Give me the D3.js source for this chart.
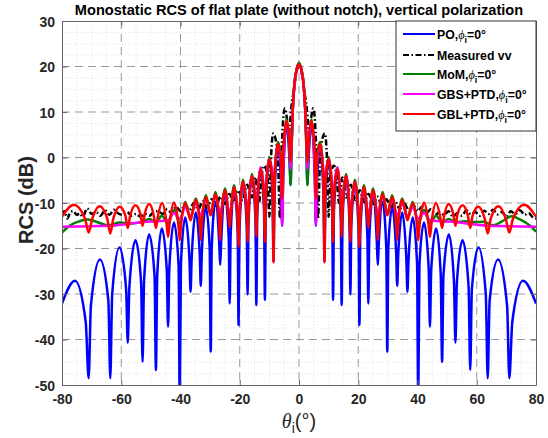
<!DOCTYPE html>
<html><head><meta charset="utf-8">
<script src="https://cdn.jsdelivr.net/npm/d3@7/dist/d3.min.js"></script>
<style>
body{margin:0;background:#fff;}
svg text{font-family:"Liberation Sans",Arial,Helvetica,sans-serif;}
</style></head><body>
<svg id="chart" width="548" height="438"></svg>
<script>
// ---------- data (theta in degrees, RCS in dB) ----------
const xTicks = [-80,-60,-40,-20,0,20,40,60,80];
const yTicks = [-50,-40,-30,-20,-10,0,10,20,30];
const titleText = "Monostatic RCS of flat plate (without notch), vertical polarization";
const seriesNames = ["PO", "Measured vv", "MoM", "GBS+PTD", "GBL+PTD"];
const seriesColors = ["#0000ff", "#000000", "#008000", "#ff00ff", "#ff0000"];

const poData = [
[-80,-32.1],[-75.6,-27.1],[-72.0,-36.1],[-71.0,-48.5],[-70.25,-32.6],[-67.2,-22.4],[-64.35,-31.4],[-63.7,-48.5],[-63.05,-30],
[-60.6,-19.8],[-58.35,-29],[-57.8,-40.7],[-57.25,-28.4],[-55.2,-18.2],[-53.3,-27.4],[-52.8,-44.9],[-52.3,-27.1],
[-50.6,-16.9],[-48.75,-26.1],[-48.3,-46.7],[-47.85,-25.8],[-46.3,-15.6],[-44.62,-24.8],[-44.2,-37.2],[-43.78,-24.5],
[-42.2,-14.3],[-40.65,-23.6],[-40.25,-54],[-39.85,-23.3],[-38.4,-13.2],[-36.97,-22.5],[-36.6,-29.5],[-36.23,-22.2],
[-34.85,-12.1],[-33.5,-21.3],[-33.15,-28.2],[-32.8,-21.0],[-31.45,-10.9],[-30.14,-20.1],[-29.8,-42.7],[-29.46,-19.8],
[-28.2,-9.7],[-26.93,-18.9],[-26.6,-23.6],[-26.27,-18.5],[-25.0,-8.4],[-23.72,-17.6],[-23.4,-32.1],[-23.08,-17.3],
[-21.9,-7.1],[-20.7,-16.3],[-20.4,-36.8],[-20.1,-16],[-18.9,-5.8],[-17.65,-15],[-17.35,-30.1],[-17.05,-14.7],
[-15.9,-4.3],[-14.7,-13.5],[-14.4,-32.4],[-14.1,-13.2],[-12.95,-2.8],[-11.8,-11.8],[-11.5,-31.3],[-11.2,-11.5],
[-10.05,-0.5],[-8.9,-9.5],[-8.6,-23],[-8.3,-9.5],[-7.15,2.6],[-6.0,-6.5],[-5.7,-15],[-5.4,-6.5],
[-4.2,7.5],[-3.15,-1.5],[-2.85,-6],[-2.55,1.0],[-2.1,10.5],[-1.5,16.4],[-0.8,19.3],[0,20.5],
[0.8,19.3],[1.5,16.4],[2.1,10.5],[2.55,1.0],[2.85,-6],[3.15,-1.5],[4.2,7.5],
[5.4,-6.5],[5.7,-15],[6.0,-6.5],[7.15,2.6],[8.3,-9.5],[8.6,-23],[8.9,-9.5],[10.05,-0.5],
[11.2,-11.5],[11.5,-31.3],[11.8,-11.8],[12.95,-2.8],[14.1,-13.2],[14.4,-32.4],[14.7,-13.5],[15.9,-4.3],
[17.05,-14.7],[17.35,-30.1],[17.65,-15],[18.9,-5.8],[20.1,-16],[20.4,-36.8],[20.7,-16.3],[21.9,-7.1],
[23.08,-17.3],[23.4,-32.1],[23.72,-17.6],[25.0,-8.4],[26.27,-18.5],[26.6,-23.6],[26.93,-18.9],[28.2,-9.7],
[29.46,-19.8],[29.8,-42.7],[30.14,-20.1],[31.45,-10.9],[32.8,-21.0],[33.15,-28.2],[33.5,-21.3],[34.85,-12.1],
[36.23,-22.2],[36.6,-29.5],[36.97,-22.5],[38.4,-13.2],[39.85,-23.3],[40.25,-54],[40.65,-23.6],[42.2,-14.3],
[43.78,-24.5],[44.2,-37.2],[44.62,-24.8],[46.3,-15.6],[47.85,-25.8],[48.3,-44.9],[48.75,-26.1],[50.6,-16.9],
[52.3,-27.1],[52.8,-40.7],[53.3,-27.4],[55.2,-18.2],[57.25,-28.4],[57.8,-46.7],[58.35,-29],[60.6,-19.8],
[63.05,-30],[63.7,-48.5],[64.35,-31.4],[67.2,-22.4],[70.25,-32.6],[71.0,-48.5],[72.0,-36.1],[75.6,-27.1],[80,-32.1]
];

const measuredData = [
[-80,-12.8],[-79.2,-11.8],[-78.2,-13.4],[-77.2,-12.0],[-76.2,-11.8],[-75,-12.6],[-74,-12.3],[-73,-13.0],[-71.5,-11.2],
[-70,-12.4],[-68.5,-12.0],[-67,-12.8],[-65.5,-11.6],[-64,-12.6],[-62.5,-11.5],[-61,-12.3],[-59.5,-12.6],[-58,-12.0],
[-56.5,-12.8],[-55,-12.4],[-53.5,-13.0],[-52,-12.4],[-50.5,-12.8],[-49,-12.0],[-47.5,-11.8],[-46,-12.4],[-44.5,-11.4],
[-43,-12.2],[-41.5,-10.8],[-40,-11.8],[-38.5,-10.4],[-37,-11.6],[-35.5,-10.0],[-34,-11.4],[-32.5,-9.6],[-31,-11.0],
[-29.5,-9.2],[-28,-10.6],[-26.5,-8.6],[-25,-10.2],[-23.5,-8.0],[-22,-9.8],[-20.5,-7.2],[-19,-9.4],[-17.5,-6.0],
[-16,-8.8],[-14.6,-4.4],[-13.5,-10.0],[-12.8,-5.0],[-11.8,-1.8],[-10.6,-4.0],[-10.0,-13.0],[-9.5,-1.0],[-8.7,5.3],
[-7.2,1.0],[-6.4,-13.4],[-5.7,4.0],[-4.8,10.8],[-3.9,7.5],[-3.45,4.5],[-3.1,7.0],[-2.6,11.0],[-1.8,14.5],[-1.0,18.3],
[0,20.3],[1.0,18.3],[1.8,14.5],[2.6,11.0],[3.1,7.0],[3.45,4.5],[3.9,7.5],[4.8,10.8],[5.7,4.0],[6.4,-13.4],[7.2,1.0],
[8.7,5.3],[9.5,-1.0],[10.0,-13.0],[10.6,-4.0],[11.8,-1.8],[12.8,-5.0],[13.5,-10.0],[14.6,-4.4],[16,-8.8],[17.5,-6.0],
[19,-9.4],[20.5,-7.2],[22,-9.8],[23.5,-8.0],[25,-10.2],[26.5,-8.6],[28,-10.6],[29.5,-9.2],[31,-11.0],[32.5,-9.6],
[34,-11.4],[35.5,-10.0],[37,-11.6],[38.5,-10.4],[40,-11.8],[41.5,-10.8],[43,-12.2],[44.5,-11.4],[46,-12.6],[47.5,-12.0],
[49,-12.6],[50.5,-11.8],[52,-13.0],[53.5,-12.2],[55,-12.8],[56.5,-11.6],[58,-12.5],[59.5,-12.0],[61,-12.8],[62.5,-11.7],
[64,-12.4],[65.5,-11.5],[67,-12.5],[68.5,-12.0],[70,-13.0],[71.5,-11.8],[73,-12.4],[74.6,-11.6],[76.2,-12.6],[77.5,-12.2],
[79,-13.2],[80,-13.4]
];

const momData = [
[-80,-16.5],[-77.2,-14.9],[-74,-14.0],[-71.5,-13.6],[-68.9,-14.0],[-64.4,-14.9],[-60.5,-14.3],[-57,-14.5],[-53,-14.2],
[-50.5,-13.5],[-48.3,-14.3],[-46.3,-12.8],[-44.2,-14.5],[-42.2,-11.5],[-40.25,-14.5],[-38.4,-9.8],[-36.95,-13],[-36.6,-13.5],
[-36.25,-12.8],[-34.85,-9.0],[-33.5,-14],[-33.15,-17],[-32.8,-14],[-31.45,-8.3],[-30.1,-12],[-29.8,-12.5],[-29.5,-11.8],
[-28.2,-7.6],[-26.9,-14],[-26.6,-17],[-26.3,-13.5],[-25.0,-6.8],[-23.7,-13],[-23.4,-14.5],[-23.1,-12.5],[-21.9,-6.1],
[-20.7,-13],[-20.4,-18],[-20.1,-12.5],[-18.9,-4.9],[-17.65,-12],[-17.35,-17],[-17.05,-11.5],[-15.9,-3.6],[-14.7,-10.5],
[-14.4,-16],[-14.1,-10],[-12.95,-2.2],[-11.8,-8.5],[-11.5,-17],[-11.2,-8],[-10.05,0.1],[-8.9,-5.5],[-8.6,-20],[-8.3,-5],
[-7.15,3.4],[-6.05,0],[-5.7,-8.5],[-5.3,0],[-4.2,8.4],[-3.2,2],[-2.85,-6.1],[-2.5,2],[-2.1,10.7],[-1.5,16.6],[-0.8,19.5],
[0,20.8],[0.8,19.5],[1.5,16.6],[2.1,10.7],[2.5,2],[2.85,-6.1],[3.2,2],[4.2,8.4],[5.3,0],[5.7,-8.5],[6.05,0],[7.15,3.4],
[8.3,-5],[8.6,-20],[8.9,-5.5],[10.05,0.1],[11.2,-8],[11.5,-17],[11.8,-8.5],[12.95,-2.2],[14.1,-10],[14.4,-16],[14.7,-10.5],
[15.9,-3.6],[17.05,-11.5],[17.35,-17],[17.65,-12],[18.9,-4.9],[20.1,-12.5],[20.4,-18],[20.7,-13],[21.9,-6.1],[23.1,-12.5],
[23.4,-14.5],[23.7,-13],[25.0,-6.8],[26.3,-13.5],[26.6,-17],[26.9,-14],[28.2,-7.6],[29.5,-11.8],[29.8,-12.5],[30.1,-12],
[31.45,-8.3],[32.8,-14],[33.15,-17],[33.5,-14],[34.85,-9.0],[36.25,-12.8],[36.6,-13.5],[36.95,-13],[38.4,-9.8],
[40.25,-14.5],[42.2,-11.5],[44.2,-14.5],[46.3,-12.8],[48.3,-14.3],[50.5,-13.5],[53,-14.2],[56,-14.0],[59,-14.2],
[62.2,-14.1],[65.6,-14.9],[68.4,-14.1],[71.8,-12.9],[74.6,-13.6],[78,-15.0],[80,-16.3]
];

const gbsData = [
[-80,-15.2],[-70,-15.1],[-64,-15.0],[-58,-14.6],[-53,-14.2],[-48,-14.0],[-44.2,-13.8],[-42.2,-12.2],[-40.25,-13.5],
[-38.4,-11.0],[-36.6,-13.0],[-34.85,-10.0],[-33.15,-12.8],[-31.45,-9.2],[-29.8,-12.3],[-28.2,-8.3],[-26.6,-12.5],
[-25.0,-7.4],[-23.7,-12],[-23.4,-12.5],[-23.1,-11.8],[-21.9,-6.6],[-20.7,-12],[-20.4,-13],[-20.1,-11.5],[-18.9,-5.4],
[-17.65,-11],[-17.35,-13],[-17.05,-10.5],[-15.9,-4.1],[-14.7,-9.5],[-14.4,-12],[-14.1,-9],[-12.95,-2.2],[-11.8,-7.5],
[-11.5,-11],[-11.2,-7],[-10.05,-0.4],[-8.9,-4.5],[-8.6,-12],[-8.3,-4],[-7.15,2.8],[-6.05,-2],[-5.7,-14.9],[-5.3,-2],
[-4.2,7.8],[-3.2,3],[-2.85,-2.5],[-2.5,4],[-2.1,10.4],[-1.5,16.3],[-0.8,19.2],[0,20.4],
[0.8,19.2],[1.5,16.3],[2.1,10.4],[2.5,4],[2.85,-2.5],[3.2,3],[4.2,7.8],[5.3,-2],[5.7,-14.9],[6.05,-2],[7.15,2.8],
[8.3,-4],[8.6,-12],[8.9,-4.5],[10.05,-0.4],[11.2,-7],[11.5,-11],[11.8,-7.5],[12.95,-2.2],[14.1,-9],[14.4,-12],[14.7,-9.5],
[15.9,-4.1],[17.05,-10.5],[17.35,-13],[17.65,-11],[18.9,-5.4],[20.1,-11.5],[20.4,-13],[20.7,-12],[21.9,-6.6],
[23.1,-11.8],[23.4,-12.5],[23.7,-12],[25.0,-7.4],[26.6,-12.5],[28.2,-8.3],[29.8,-12.3],[31.45,-9.2],[33.15,-12.8],
[34.85,-10.0],[36.6,-13.0],[38.4,-11.0],[40.25,-13.5],[42.2,-12.2],[44.2,-13.8],[48,-14.0],[53,-14.2],[58,-14.6],
[64,-15.0],[70,-15.1],[80,-15.2]
];

const gblData = [
[-80,-13.0],[-76.0,-10.4],[-72.2,-13.5],[-71.0,-16.5],[-69.8,-13.5],[-67.3,-10.7],[-64.7,-13.5],[-63.7,-16.7],[-62.7,-13.5],
[-60.5,-10.8],[-58.6,-12.8],[-57.8,-15.5],[-57.0,-12.8],[-55.2,-10.5],[-53.5,-12.5],[-52.8,-15.0],[-52.1,-12.5],
[-50.5,-10.2],[-48.95,-13.0],[-48.3,-15.5],[-47.65,-13.0],[-46.2,-10.0],[-44.8,-14.0],[-44.2,-17.4],[-43.6,-14.0],
[-42.2,-9.9],[-40.6,-15.5],[-40.25,-18.2],[-39.9,-15.5],[-38.4,-10.0],[-36.95,-13.2],[-36.6,-13.8],[-36.25,-13.0],
[-34.85,-9.3],[-33.5,-14.5],[-33.15,-18.2],[-32.8,-14.5],[-31.45,-8.7],[-30.1,-12.2],[-29.8,-12.7],[-29.5,-12.0],
[-28.2,-8.0],[-26.9,-14.5],[-26.6,-18.2],[-26.3,-14.0],[-25.0,-7.2],[-23.7,-13.5],[-23.4,-15.3],[-23.1,-13.0],
[-21.9,-6.5],[-20.7,-13.5],[-20.4,-19.6],[-20.1,-13.0],[-18.9,-5.3],[-17.65,-12.5],[-17.35,-18.5],[-17.05,-12.0],
[-15.9,-4.0],[-14.7,-11.0],[-14.4,-17.4],[-14.1,-10.5],[-12.95,-2.6],[-11.8,-9.0],[-11.5,-18.6],[-11.2,-8.5],
[-10.05,-0.3],[-8.9,-6.0],[-8.6,-23.0],[-8.3,-5.5],[-7.15,3.0],[-6.05,-0.5],[-5.7,-9.0],[-5.3,1.5],[-4.2,8.0],
[-3.2,3.0],[-2.85,-1.0],[-2.5,3.5],[-2.1,10.5],[-1.5,16.4],[-0.8,19.3],[0,20.5],
[0.8,19.3],[1.5,16.4],[2.1,10.5],[2.5,3.5],[2.85,-1.0],[3.2,3.0],[4.2,8.0],[5.3,1.5],[5.7,-9.0],[6.05,-0.5],[7.15,3.0],
[8.3,-5.5],[8.6,-23.0],[8.9,-6.0],[10.05,-0.3],[11.2,-8.5],[11.5,-18.6],[11.8,-9.0],[12.95,-2.6],[14.1,-10.5],[14.4,-17.4],
[14.7,-11.0],[15.9,-4.0],[17.05,-12.0],[17.35,-18.5],[17.65,-12.5],[18.9,-5.3],[20.1,-13.0],[20.4,-19.6],[20.7,-13.5],
[21.9,-6.5],[23.1,-13.0],[23.4,-15.3],[23.7,-13.5],[25.0,-7.2],[26.3,-14.0],[26.6,-18.2],[26.9,-14.5],[28.2,-8.0],
[29.5,-12.0],[29.8,-12.7],[30.1,-12.2],[31.45,-8.7],[32.8,-14.5],[33.15,-18.2],[33.5,-14.5],[34.85,-9.3],[36.25,-13.0],
[36.6,-13.8],[36.95,-13.2],[38.4,-10.0],[39.9,-15.5],[40.25,-18.2],[40.6,-15.5],[42.2,-9.9],[43.6,-14.0],[44.2,-17.4],
[44.8,-14.0],[46.2,-10.0],[47.65,-13.0],[48.3,-15.5],[48.95,-13.0],[50.5,-10.2],[52.1,-12.5],[52.8,-15.0],[53.5,-12.5],
[55.2,-10.5],[57.0,-12.8],[57.8,-15.5],[58.6,-12.8],[60.5,-10.8],[62.7,-13.5],[63.7,-16.7],[64.7,-13.5],[67.3,-10.7],
[69.8,-13.5],[71.0,-16.5],[72.2,-13.5],[76.0,-10.4],[80,-13.0]
];

const allSeries = [poData, measuredData, momData, gbsData, gblData];

// ---------- layout ----------
const W = 548, H = 438;
const plot = {left: 62, right: 536, top: 21, bottom: 385};
const svg = d3.select("#chart");
svg.append("rect").attr("width", W).attr("height", H).attr("fill", "#fff");

const x = d3.scaleLinear().domain([-80, 80]).range([plot.left, plot.right]);
const y = d3.scaleLinear().domain([-50, 30]).range([plot.bottom, plot.top]);

// minor grid
const xMinor = d3.range(-80, 80.01, 5).filter(v => v % 20 !== 0);
const yMinor = d3.range(-50, 30.01, 2.5).filter(v => v % 10 !== 0);
const grid = svg.append("g");
grid.selectAll("line.xm").data(xMinor).join("line")
  .attr("x1", d => x(d)).attr("x2", d => x(d)).attr("y1", plot.top).attr("y2", plot.bottom)
  .attr("stroke", "#dcdcdc").attr("stroke-width", 0.8).attr("stroke-dasharray", "1,2");
grid.selectAll("line.ym").data(yMinor).join("line")
  .attr("y1", d => y(d)).attr("y2", d => y(d)).attr("x1", plot.left).attr("x2", plot.right)
  .attr("stroke", "#dcdcdc").attr("stroke-width", 0.8).attr("stroke-dasharray", "1,2");
// major grid
grid.selectAll("line.xM").data(xTicks.slice(1, -1)).join("line")
  .attr("x1", d => x(d)).attr("x2", d => x(d)).attr("y1", plot.top).attr("y2", plot.bottom)
  .attr("stroke", "#9a9a9a").attr("stroke-width", 1).attr("stroke-dasharray", "8,5");
grid.selectAll("line.yM").data(yTicks.slice(1, -1)).join("line")
  .attr("y1", d => y(d)).attr("y2", d => y(d)).attr("x1", plot.left).attr("x2", plot.right)
  .attr("stroke", "#9a9a9a").attr("stroke-width", 1).attr("stroke-dasharray", "8,5");

// data
svg.append("clipPath").attr("id", "clip").append("rect")
  .attr("x", plot.left).attr("y", plot.top).attr("width", plot.right - plot.left).attr("height", plot.bottom - plot.top);
const line = d3.line().x(d => x(d[0])).y(d => y(d[1])).curve(d3.curveMonotoneX);
const gData = svg.append("g").attr("clip-path", "url(#clip)");
allSeries.forEach((s, i) => {
  gData.append("path").datum(s).attr("d", line)
    .attr("fill", "none").attr("stroke", seriesColors[i]).attr("stroke-width", 2.5)
    .attr("stroke-linejoin", "round")
    .attr("stroke-dasharray", i === 1 ? "6,2.5,1.5,2.5" : null);
});

// axes
const axColor = "#262626";
const fmt = d => d3.format("")(d).replace("−", "-");
const gx = svg.append("g").attr("transform", `translate(0,${plot.bottom})`)
  .call(d3.axisBottom(x).tickValues(xTicks).tickSizeInner(-5).tickSizeOuter(0).tickPadding(9).tickFormat(fmt));
const gy = svg.append("g").attr("transform", `translate(${plot.left},0)`)
  .call(d3.axisLeft(y).tickValues(yTicks).tickSizeInner(-5).tickSizeOuter(0).tickPadding(7).tickFormat(fmt));
const gxt = svg.append("g").attr("transform", `translate(0,${plot.top})`)
  .call(d3.axisTop(x).tickValues(xTicks).tickSizeInner(-5).tickSizeOuter(0).tickFormat(""));
const gyr = svg.append("g").attr("transform", `translate(${plot.right},0)`)
  .call(d3.axisRight(y).tickValues(yTicks).tickSizeInner(-5).tickSizeOuter(0).tickFormat(""));
[gx, gy, gxt, gyr].forEach(g => {
  g.select(".domain").attr("stroke", "#666").attr("stroke-width", 1);
  g.selectAll(".tick line").attr("stroke", "#666");
  g.selectAll("text").attr("fill", axColor).attr("font-size", "14px").attr("font-weight", "bold")
    .attr("font-family", "Liberation Sans, Arial, sans-serif");
});
gy.selectAll("text").attr("dy", "0.36em");

// title
svg.append("text").attr("x", 299).attr("y", 15).attr("text-anchor", "middle")
  .attr("font-size", "14.6px").attr("font-weight", "bold").attr("fill", "#000").text(titleText);

// y label
svg.append("text").attr("transform", "translate(33,200) rotate(-90)").attr("text-anchor", "middle")
  .attr("font-size", "20px").attr("font-weight", "bold").attr("fill", axColor).text("RCS (dB)");

// x label
const xl = svg.append("text").attr("x", 299).attr("y", 428).attr("text-anchor", "middle")
  .attr("font-size", "20px").attr("fill", axColor);
xl.append("tspan").attr("font-style", "italic").attr("font-family", "Liberation Serif, serif").text("θ");
xl.append("tspan").attr("font-size", "14px").attr("dy", 5).text("i");
xl.append("tspan").attr("dy", -5).text("(°)");

// legend
const lg = svg.append("g");
lg.append("rect").attr("x", 396).attr("y", plot.top).attr("width", plot.right - 396).attr("height", 110)
  .attr("fill", "#fff").attr("stroke", "#333").attr("stroke-width", 1);
const legY = [34, 55, 74, 94, 114];
seriesNames.forEach((name, i) => {
  lg.append("line").attr("x1", 403).attr("x2", 435).attr("y1", legY[i]).attr("y2", legY[i])
    .attr("stroke", seriesColors[i]).attr("stroke-width", 2)
    .attr("stroke-dasharray", i === 1 ? "6,2.5,1.5,2.5" : null);
  const t = lg.append("text").attr("x", 437).attr("y", legY[i] + 4.5)
    .attr("font-size", "12.3px").attr("font-weight", "bold").attr("fill", "#000");
  if (i === 1) { t.text(name); return; }
  t.append("tspan").text(name + ",");
  t.append("tspan").attr("font-style", "italic").attr("font-weight", "normal")
    .attr("font-family", "Liberation Serif, serif").text("ϕ");
  t.append("tspan").attr("font-size", "9px").attr("dy", 4).text("i");
  t.append("tspan").attr("dy", -4).text("=0°");
});
</script>
</body></html>
